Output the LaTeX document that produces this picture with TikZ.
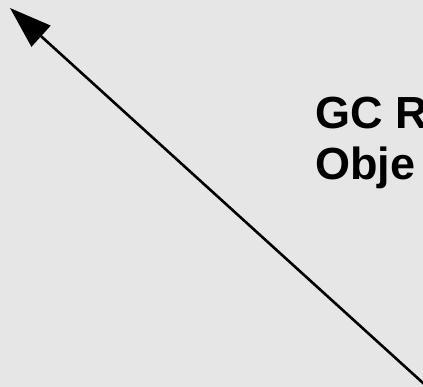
\documentclass[tikz,border=0pt]{standalone}
\usepackage{fontspec}
\setmainfont{Liberation Sans}
\usetikzlibrary{arrows.meta}
\definecolor{bgc}{HTML}{E6E6E6}
\tikzset{
  conn/.style={line width=2.6pt, -{Triangle[length=42pt,width=28pt]}},
  lbl/.style={font=\fontsize{45pt}{52pt}\selectfont\bfseries, anchor=base west, inner sep=0pt, align=left}
}
\begin{document}
\begin{tikzpicture}[x=1pt,y=-1pt]
\useasboundingbox (0,0) rectangle (423,387);
\fill[bgc] (0,0) rectangle (423,387);
\clip (0,0) rectangle (423,387);
\coordinate (tail) at (428.4,387.9);
\coordinate (head) at (10,8);
\draw[conn] (tail) -- (head);
\node[lbl] (t1) at (315,129) {GC R};
\node[lbl] (t2) at (315,180) {Obje};
\end{tikzpicture}
\end{document}
